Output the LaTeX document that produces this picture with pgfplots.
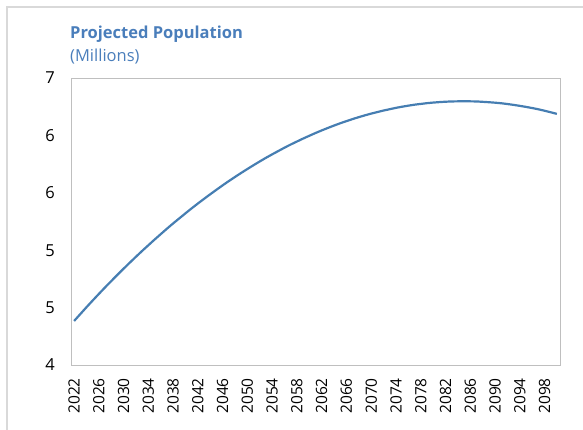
\documentclass[border=0pt]{standalone}
\usepackage{pgfplots}
\pgfplotsset{compat=1.18}
\usepackage{fontspec}
\setmainfont{Open Sans}
\definecolor{linecol}{RGB}{70,126,178}
\definecolor{titlecol}{RGB}{74,126,187}
\definecolor{framecol}{RGB}{191,191,191}
\definecolor{bordercol}{RGB}{217,217,217}
\begin{document}
\begin{tikzpicture}[x=1pt,y=1pt]
\useasboundingbox (0,0) rectangle (583,429);
\draw[bordercol, line width=1.5pt] (7,-20) -- (7,422) -- (600,422);
\node[anchor=base west, text=titlecol, font=\fontsize{16.5}{18}\selectfont\bfseries, inner sep=0] at (70,390) {Projected Population};
\node[anchor=base west, text=titlecol, font=\fontsize{16.5}{18}\selectfont, inner sep=0] at (70,367) {(Millions)};
\begin{axis}[
  at={(71pt,64pt)}, anchor=south west,
  scale only axis, width=489pt, height=287pt,
  xmin=2021.5, xmax=2100.5, ymin=4, ymax=7,
  axis line style={framecol, line width=0.8pt},
  tick style={draw=none},
  xtick={2022,2026,...,2098},
  ytick={4,4.6,5.2,5.8,6.4,7},
  yticklabels={4,5,5,6,6,7},
  /pgf/number format/assume math mode=true,
  /pgf/number format/1000 sep={},
  x tick label style={rotate=90, anchor=east, font=\fontsize{15.5}{16}\selectfont, inner sep=0pt, xshift=-13pt},
  y tick label style={font=\fontsize{16.5}{17}\selectfont, inner sep=0pt, xshift=-16pt},
  xtick pos=bottom, ytick pos=left,
  clip=false,
]
\addplot[linecol, line width=2.2pt, line join=round] table {
x y
2022 4.460
2023 4.532
2024 4.604
2025 4.674
2026 4.743
2027 4.811
2028 4.877
2029 4.943
2030 5.007
2031 5.070
2032 5.132
2033 5.193
2034 5.252
2035 5.311
2036 5.368
2037 5.425
2038 5.480
2039 5.533
2040 5.586
2041 5.638
2042 5.688
2043 5.737
2044 5.785
2045 5.832
2046 5.878
2047 5.923
2048 5.966
2049 6.008
2050 6.049
2051 6.089
2052 6.128
2053 6.166
2054 6.202
2055 6.237
2056 6.272
2057 6.305
2058 6.336
2059 6.367
2060 6.396
2061 6.425
2062 6.452
2063 6.478
2064 6.503
2065 6.527
2066 6.549
2067 6.571
2068 6.591
2069 6.610
2070 6.628
2071 6.644
2072 6.660
2073 6.674
2074 6.688
2075 6.700
2076 6.711
2077 6.721
2078 6.729
2079 6.737
2080 6.743
2081 6.748
2082 6.752
2083 6.755
2084 6.756
2085 6.757
2086 6.756
2087 6.755
2088 6.751
2089 6.747
2090 6.742
2091 6.736
2092 6.728
2093 6.719
2094 6.709
2095 6.698
2096 6.686
2097 6.673
2098 6.658
2099 6.642
2100 6.625
};
\end{axis}
\end{tikzpicture}
\end{document}
